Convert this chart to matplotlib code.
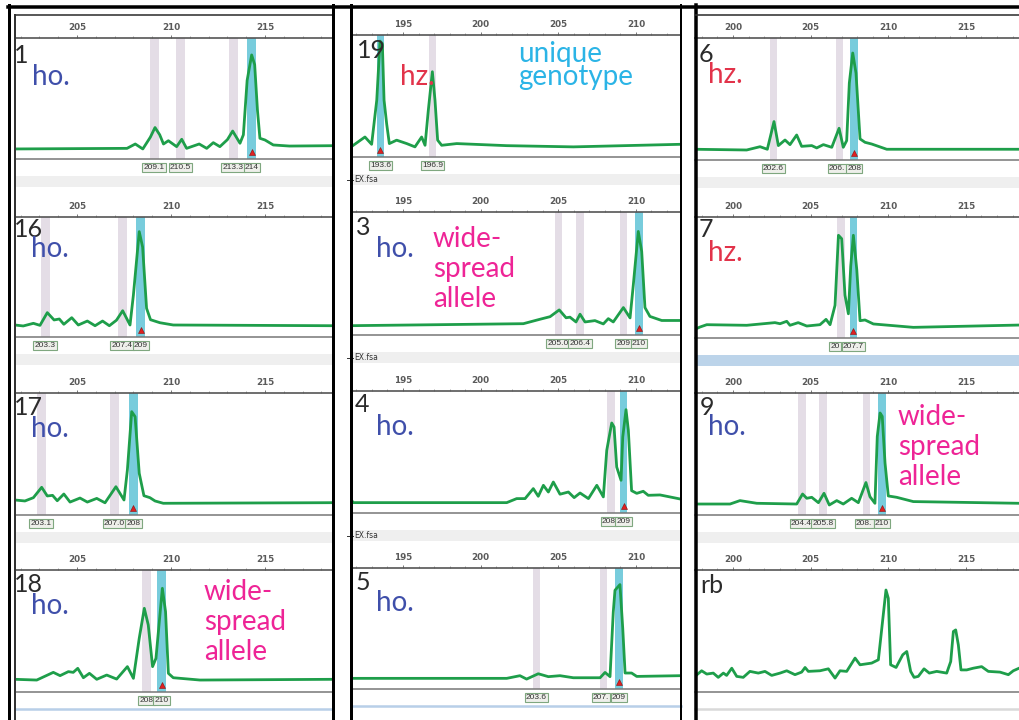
import matplotlib.pyplot as plt
from matplotlib.ticker import MultipleLocator

W, H = 1019, 720

# ---- traces: (size in bp, signal in % of panel height) ----
s1_bp = [201.7, 207.66, 208.1, 208.5, 208.9, 209.15, 209.4, 209.6, 209.86, 210.3, 210.57, 210.83, 211.5, 211.9,
         212.25, 212.6, 213.0, 213.28, 213.67, 213.85, 214.05, 214.29, 214.45, 214.6, 214.73, 215.0, 215.44, 216.3, 218.6]
s1_h = [8.3, 8.8, 12.4, 8.3, 18, 26, 20, 12.4, 15.1, 10.2, 16.3, 8.8, 12.4, 8.8,
        13.5, 10.2, 16, 23.1, 13.0, 20, 65, 86, 78, 40, 17.1, 15.7, 11.6, 10.7, 11.0]
s1_bins = [209.1, 210.5, 213.3, 214.3]
s1_text = ["209.1", "210.5", "213.3", "214"]
s1_call = 214.3

s16_bp = [201.7, 202.14, 202.68, 203.03, 203.42, 203.78, 204.06, 204.3, 204.72, 205.07, 205.55, 205.96, 206.36,
          206.72, 207.1, 207.43, 207.82, 208.0, 208.31, 208.49, 208.7, 208.91, 209.41, 210.12, 218.6]
s16_h = [10, 9.2, 11.4, 9.7, 20.3, 14.2, 15, 10.6, 16.1, 10, 13.3, 9.4, 13.3,
         9.4, 14, 21.9, 10, 35, 87.8, 75, 23.9, 14.4, 11.9, 10, 9.4]
s16_bins = [203.3, 207.4, 208.4]
s16_text = ["203.3", "207.4", "209"]
s16_call = 208.4

s17_bp = [201.7, 202.23, 202.68, 203.12, 203.42, 203.7, 203.95, 204.3, 204.63, 205.16, 205.55, 206.05, 206.49,
          207.07, 207.5, 207.68, 207.91, 208.09, 208.31, 208.56, 208.88, 209.15, 209.59, 218.6]
s17_h = [12.3, 11.5, 14.2, 22.7, 15.6, 16.1, 11.7, 17.2, 10.6, 13.9, 10.6, 13.6, 10,
         23.2, 12.3, 36.9, 84.7, 80.6, 34.2, 15.8, 14.2, 11.5, 9.6, 10.1]
s17_bins = [203.1, 207.0, 208.0]
s17_text = ["203.1", "207.0", "208"]
s17_call = 208.0

s18_bp = [201.7, 202.86, 203.74, 204.1, 204.54, 204.8, 205.04, 205.34, 205.66, 206.05, 206.58, 207.11, 207.68,
          208.0, 208.31, 208.58, 208.79, 209.02, 209.2, 209.54, 209.71, 209.86, 210.12, 211.54, 218.6]
s18_h = [10.4, 9.8, 16.1, 13.4, 16.7, 16.1, 19.4, 11.7, 15.3, 10.4, 13.9, 10.6, 20.8,
         11.2, 44, 68.6, 55, 20.8, 27.6, 85, 65.8, 15.3, 11.7, 9.8, 10.4]
s18_bins = [208.7, 209.5]
s18_text = ["208", "210"]
s18_call = 209.5

s19_bp = [191.8, 192.55, 192.98, 193.31, 193.52, 193.67, 193.78, 193.95, 194.12, 194.59, 195.24, 195.77,
          196.2, 196.42, 196.63, 196.89, 197.06, 197.23, 197.49, 198.46, 201.68, 205.97, 212.84]
s19_h = [9.6, 16.4, 10.4, 46.6, 95, 93, 46.6, 27, 11, 13.8, 11, 8.3,
         16.4, 9.6, 38.3, 69.9, 46.6, 13.8, 9.6, 11, 9.3, 8.3, 10.4]
s19_bins = [193.55, 196.9]
s19_text = ["193.6", "196.9"]
s19_call = 193.55

s3_bp = [191.8, 197.38, 202.75, 203.82, 204.47, 205.06, 205.5, 205.75, 206.14, 206.4, 206.72, 207.36,
         207.9, 208.22, 208.54, 209.19, 209.62, 209.83, 210.15, 210.37, 210.58, 210.9, 211.66, 212.84]
s3_h = [7.6, 8.4, 9.2, 12.8, 14.9, 20.4, 14, 14.5, 10.6, 16.9, 10.6, 11.7,
        9, 13.3, 10.6, 22.3, 13.9, 40.7, 84.2, 67.9, 22.3, 15.1, 11.8, 11.8]
s3_bins = [205.0, 206.4, 209.2, 210.2]
s3_text = ["205.0", "206.4", "209", "210"]
s3_call = 210.2

s4_bp = [191.6, 191.8, 201.68, 202.32, 202.86, 203.39, 203.71, 204.04, 204.36, 204.68, 205.11, 205.65, 206.02,
         206.4, 206.94, 207.48, 207.9, 208.12, 208.44, 208.59, 208.76, 209.04, 209.15, 209.36, 209.51, 209.72,
         210.05, 210.47, 210.79, 211.55, 212.84]
s4_h = [11.8, 8.5, 8.5, 11.8, 11.8, 20, 13.7, 22.7, 17.2, 25.4, 15.4, 17.2, 12.6,
        16.4, 11.8, 22.7, 13.2, 51.4, 73.8, 70.5, 37.7, 26.8, 62.3, 84.7, 67.8, 18.3,
        16.1, 17.8, 14.5, 14.8, 11.5]
s4_bins = [208.4, 209.2]
s4_text = ["208", "209"]
s4_call = 209.2

s5_bp = [191.8, 201.68, 202.53, 202.96, 203.71, 204.36, 205.11, 205.97, 207.69, 208.01, 208.33, 208.54,
         208.65, 208.97, 209.15, 209.3, 209.72, 210.05, 212.84]
s5_h = [8.8, 8.8, 11, 8.2, 12.6, 10.2, 11, 9.3, 9.3, 13.7, 10.2, 63.7,
        81.6, 86.3, 50, 13.2, 13.2, 10.4, 11]
s5_bins = [203.6, 207.9, 208.9]
s5_text = ["203.6", "207.9", "209"]
s5_call = 208.9

s6_bp = [197.55, 200.88, 201.74, 202.21, 202.64, 202.92, 203.35, 203.67, 204.1, 204.42, 205.07, 205.39, 205.82,
         206.36, 206.83, 207.1, 207.32, 207.49, 207.71, 207.92, 208.18, 208.5, 208.93, 209.9, 218.42]
s6_h = [8.8, 8.2, 10.9, 8.8, 31.5, 11.8, 16.4, 12.6, 20.5, 11.2, 11.8, 9.9, 12.6,
        10.4, 26, 10.4, 15.9, 63, 87.7, 71.2, 17.3, 14.5, 13.1, 8.8, 8.8]
s6_bins = [202.6, 206.85, 207.8]
s6_text = ["202.6", "206.8", "208"]
s6_call = 207.8

s7_bp = [197.55, 197.88, 198.31, 200.88, 202.7, 203.03, 203.46, 203.67, 204.2, 204.75, 205.6, 205.99, 206.25,
         206.57, 206.79, 207.0, 207.21, 207.43, 207.58, 207.75, 207.97, 208.18, 208.5, 209.04, 211.61, 218.42]
s7_h = [7.2, 9.1, 11, 10.5, 12.7, 11.8, 13.8, 10.5, 12.7, 9.9, 11, 15.4, 11,
        27, 84.9, 82, 35.4, 20, 59.2, 84.9, 56.5, 14.3, 14.9, 11.6, 8.8, 10.7]
s7_bins = [206.95, 207.75]
s7_text = ["206.9", "207.7"]
s7_call = 207.75

s9_bp = [197.55, 199.81, 200.45, 201.53, 204.1, 204.48, 204.75, 205.07, 205.5, 205.86, 206.2, 206.68, 207.1,
         207.64, 208.07, 208.56, 208.82, 209.14, 209.29, 209.47, 209.61, 209.79, 210.0, 210.54, 211.61, 218.42]
s9_h = [9, 9, 11.8, 9.6, 9, 17.2, 13.7, 14.5, 10.1, 17.8, 8.2, 11.8, 9,
        13.7, 10.1, 26.6, 15, 9.6, 64.3, 83.6, 80.8, 42.5, 15.6, 14.5, 11, 9.6]
s9_bins = [204.45, 205.8, 208.6, 209.6]
s9_text = ["204.4", "205.8", "208.6", "210"]
s9_call = 209.6

rb_bp = [197.55, 197.98, 198.31, 198.73, 199.05, 199.38, 199.59, 199.92, 200.24, 200.66,
         201.09, 201.63, 202.06, 202.49, 203.03, 203.46, 203.99, 204.42, 204.64, 204.85,
         205.6, 206.14, 206.57, 206.89, 207.32, 207.86, 208.18, 208.93, 209.36, 209.58,
         209.85, 210.0, 210.15, 210.5, 210.93, 211.19, 211.44, 211.66, 211.93, 212.3,
         212.64, 213.12, 213.76, 214.02, 214.19, 214.34, 214.51, 214.68, 215.05, 215.47,
         216.01, 216.44, 217.19, 217.73, 218.05, 218.42]
rb_h = [12.8, 17.4, 14.7, 15.5, 12, 15.5, 13.6, 19.5, 12.8, 12,
        16.9, 15.5, 16.9, 13.6, 15.5, 17.4, 14.2, 16.3, 20.1, 16.9,
        17.4, 19, 11.4, 17.4, 16.9, 27.8, 22.3, 23.7, 26.4, 52,
        83.6, 76.8, 22.3, 20.1, 30.5, 33.2, 16.9, 12, 12.8, 19,
        15.5, 16.9, 15.5, 25, 49.6, 50.9, 38.6, 18.1, 18.1, 19.5,
        20.8, 16.9, 16.3, 14.2, 17.4, 19.5]

sample_ids = ["1", "16", "17", "18", "19", "3", "4", "5", "6", "7", "9", "rb"]
genotypes = ["ho.", "ho.", "ho.", "ho.", "hz.", "ho.", "ho.", "ho.", "hz.", "hz.", "ho.", ""]
note_unique = "unique\ngenotype"
note_wide = "wide-\nspread\nallele"

# ---- layout (pixels) ----
# column: left px, right px, reference bp, its px, px per bp
COLS = [(15, 333, 205, 77, 18.8), (352, 681, 195, 403, 15.53), (695, 1019, 200, 733, 15.53)]
# rows per column: (ruler line y, bottom line y)
ROWS = [[(38, 159), (217, 337), (393, 515), (570, 692)],
        [(35, 157), (212, 335), (391, 513), (568, 689)],
        [(38, 160), (217, 338), (393, 515), (570, 692)]]

GREEN = '#1E9E4A'
HO = '#3F4FAA'
HZ = '#E2334A'
PINK = '#EE2496'
SKY = '#2BB4E6'
FONT = 'Lato'
LAB_FONT = 'Liberation Sans'
LAB_FS = 6
LAB_PAD = 0.15

# extra notes: (text, px from panel left, px of LAST baseline below ruler, colour, line spacing)
panels = [
    dict(col=0, row=0, bp=s1_bp, h=s1_h, bins=s1_bins, text=s1_text, call=s1_call, strip='grey',
         num=(sample_ids[0], -1, 25), geno=(genotypes[0], 17, 47), extra=[]),
    dict(col=0, row=1, bp=s16_bp, h=s16_h, bins=s16_bins, text=s16_text, call=s16_call, strip='grey',
         num=(sample_ids[1], -1, 20), geno=(genotypes[1], 16, 40), extra=[]),
    dict(col=0, row=2, bp=s17_bp, h=s17_h, bins=s17_bins, text=s17_text, call=s17_call, strip='grey',
         num=(sample_ids[2], -1, 22), geno=(genotypes[2], 16, 44), extra=[]),
    dict(col=0, row=3, bp=s18_bp, h=s18_h, bins=s18_bins, text=s18_text, call=s18_call, strip='line_blue',
         num=(sample_ids[3], -1, 22), geno=(genotypes[3], 16, 44),
         extra=[(note_wide, 189, 90, PINK, 1.2)]),
    dict(col=1, row=0, bp=s19_bp, h=s19_h, bins=s19_bins, text=s19_text, call=s19_call, strip='grey_ex',
         num=(sample_ids[4], 5, 23), geno=(genotypes[4], 48, 50),
         extra=[(note_unique, 166, 50, SKY, 0.88)]),
    dict(col=1, row=1, bp=s3_bp, h=s3_h, bins=s3_bins, text=s3_text, call=s3_call, strip='grey_ex',
         num=(sample_ids[5], 4, 23), geno=(genotypes[5], 24, 45),
         extra=[(note_wide, 81, 95, PINK, 1.2)]),
    dict(col=1, row=2, bp=s4_bp, h=s4_h, bins=s4_bins, text=s4_text, call=s4_call, strip='grey_ex',
         num=(sample_ids[6], 3, 21), geno=(genotypes[6], 24, 44), extra=[]),
    dict(col=1, row=3, bp=s5_bp, h=s5_h, bins=s5_bins, text=s5_text, call=s5_call, strip='line_blue',
         num=(sample_ids[7], 4, 22), geno=(genotypes[7], 24, 43), extra=[]),
    dict(col=2, row=0, bp=s6_bp, h=s6_h, bins=s6_bins, text=s6_text, call=s6_call, strip='grey',
         num=(sample_ids[8], 4, 24), geno=(genotypes[8], 13, 45), extra=[]),
    dict(col=2, row=1, bp=s7_bp, h=s7_h, bins=s7_bins, text=s7_text, call=s7_call, strip='blue',
         num=(sample_ids[9], 4, 20), geno=(genotypes[9], 13, 44), extra=[]),
    dict(col=2, row=2, bp=s9_bp, h=s9_h, bins=s9_bins, text=s9_text, call=s9_call, strip='grey',
         num=(sample_ids[10], 5, 22), geno=(genotypes[10], 13, 42),
         extra=[(note_wide, 203, 92, PINK, 1.2)]),
    dict(col=2, row=3, bp=rb_bp, h=rb_h, bins=[], text=[], call=None, strip='line_grey',
         num=(sample_ids[11], 5, 23), geno=(genotypes[11], 0, 0), extra=[]),
]

fig = plt.figure(figsize=(W / 100, H / 100), dpi=100)
fig.patch.set_facecolor('white')

label_sets = []
for p in panels:
    l, r, ref_bp, ref_px, ppb = COLS[p['col']]
    t, b = ROWS[p['col']][p['row']]
    hpx = b - t
    ax = fig.add_axes([l / W, 1 - b / H, (r - l) / W, hpx / H])
    ax.set_xlim(ref_bp + (l - ref_px) / ppb, ref_bp + (r - ref_px) / ppb)
    ax.set_ylim(0, 100)
    ax.spines['left'].set_visible(False)
    ax.spines['right'].set_visible(False)
    ax.spines['top'].set_color('#555555')
    ax.spines['top'].set_linewidth(1.2)
    ax.spines['bottom'].set_color('#777777')
    ax.spines['bottom'].set_linewidth(1.1)
    ax.set_yticks([])
    ax.xaxis.set_ticks_position('top')
    ax.xaxis.set_major_locator(MultipleLocator(5))
    ax.xaxis.set_minor_locator(MultipleLocator(1))
    ax.tick_params(axis='x', which='major', length=2.5, width=0.7, color='#777777', pad=1.5,
                   labelsize=6.3, labelcolor='#5a5a5a')
    ax.tick_params(axis='x', which='minor', length=1.8, width=0.6, color='#999999')
    for lab in ax.get_xticklabels():
        lab.set_fontweight('bold')

    # bins
    for c in p['bins']:
        col = '#78CCDC' if c == p['call'] else '#E4DDE6'
        ax.axvspan(c - 0.24, c + 0.24, color=col, lw=0, zorder=1)

    ax.plot(p['bp'], p['h'], color=GREEN, lw=2.0, zorder=3, solid_joinstyle='round')

    if p['call'] is not None:
        ax.plot([p['call']], [6], marker='^', ms=4.5, color='#E02020', mec='#8A1010', mew=0.4,
                zorder=4, clip_on=False)

    # size labels under the trace
    trans = ax.get_xaxis_transform()
    labs = []
    for i, (c, tx) in enumerate(zip(p['bins'], p['text'])):
        labs.append(ax.text(c, -8.5 / hpx, tx, transform=trans, ha='center', va='center', fontsize=LAB_FS,
                            family=LAB_FONT, color='#333333', zorder=5 + i,
                            bbox=dict(boxstyle='square,pad=%g' % LAB_PAD, fc='#EEEFEA', ec='#7FA77F', lw=0.8)))
    label_sets.append((ax, labs))

    # strip under each panel
    s = p['strip']
    if s in ('grey', 'grey_ex', 'blue'):
        fc = '#BCD4EA' if s == 'blue' else '#EFEFEF'
        ax.add_patch(plt.Rectangle((0, -28 / hpx), 1, 11 / hpx, transform=ax.transAxes,
                                   fc=fc, lw=0, clip_on=False))
        if s == 'grey_ex':
            ax.text(2 / (r - l), -22.5 / hpx, 'EX.fsa', transform=ax.transAxes, ha='left',
                    va='center', fontsize=5.5, color='#333333', zorder=25)
            ax.plot([-5 / (r - l), 0.5 / (r - l)], [-22.5 / hpx] * 2, transform=ax.transAxes,
                    color='#333333', lw=0.7, clip_on=False, zorder=25)
    else:
        lc = '#B8CFE8' if s == 'line_blue' else '#D9D9D9'
        ax.plot([0, 1], [-17 / hpx, -17 / hpx], transform=ax.transAxes, color=lc, lw=1.8,
                clip_on=False)

    # sample number and notes (offsets: px right of panel left, px of baseline below ruler)
    num, dx, dy = p['num']
    ax.annotate(num, xy=(0, 1), xycoords='axes fraction', xytext=(dx, -dy), textcoords='offset pixels',
                ha='left', va='baseline', fontsize=18, color='#2B2B2B', family=FONT, zorder=6)
    g, dx, dy = p['geno']
    if g:
        ax.annotate(g, xy=(0, 1), xycoords='axes fraction', xytext=(dx, -dy), textcoords='offset pixels',
                    ha='left', va='baseline', fontsize=20, color=HO if g == 'ho.' else HZ,
                    family=FONT, zorder=6)
    for tx, dx, dy, c, ls in p['extra']:
        ax.annotate(tx, xy=(0, 1), xycoords='axes fraction', xytext=(dx, -dy), textcoords='offset pixels',
                    ha='left', va='baseline', fontsize=20, color=c, family=FONT, zorder=6,
                    linespacing=ls)

# size-label boxes sit edge to edge: a box that runs into its right neighbour is nudged left a
# little, or else its text is cut off the way the neighbouring box hides it
fig.canvas.draw()
renderer = fig.canvas.get_renderer()
pad_px = LAB_PAD * LAB_FS * fig.dpi / 72
for ax, labs in label_sets:
    inv = ax.transData.inverted()
    for lab in labs:
        x0 = lab.get_window_extent(renderer).x0
        lab.set_ha('left')
        lab.set_x(inv.transform((x0, 0))[0])
    for i in range(len(labs) - 1):
        cur, nxt = labs[i], labs[i + 1]
        limit = nxt.get_window_extent(renderer).x0 - pad_px + 0.5
        need = cur.get_window_extent(renderer).x1 - limit
        if 0 < need <= 2.5:
            x0 = cur.get_window_extent(renderer).x0 - need
            cur.set_x(inv.transform((x0, 0))[0])
            continue
        txt = cur.get_text()
        while len(txt) > 1 and cur.get_window_extent(renderer).x1 > limit:
            txt = txt[:-1]
            cur.set_text(txt)

# frame lines drawn in pixel space on top
ov = fig.add_axes([0, 0, 1, 1], zorder=20)
ov.set_xlim(0, W)
ov.set_ylim(H, 0)
ov.axis('off')
k = 0.72  # px -> pt
ov.plot([8, W], [6.5, 6.5], color='black', lw=3.5 * k)
ov.plot([9.5, 9.5], [5, H], color='black', lw=3 * k)
ov.plot([15, 15], [15, H], color='#333333', lw=2 * k)
ov.plot([15, 333], [15, 15], color='#333333', lw=1.6 * k)
ov.plot([333.5, 333.5], [5, H], color='black', lw=3 * k)
ov.plot([351.5, 351.5], [5, H], color='black', lw=3 * k)
ov.plot([681, 681], [5, H], color='black', lw=2 * k)
ov.plot([696, 696], [5, H], color='black', lw=3.5 * k)
ov.plot([696, W], [15, 15], color='#333333', lw=1.6 * k)

fig.savefig('out.png', dpi=100)
